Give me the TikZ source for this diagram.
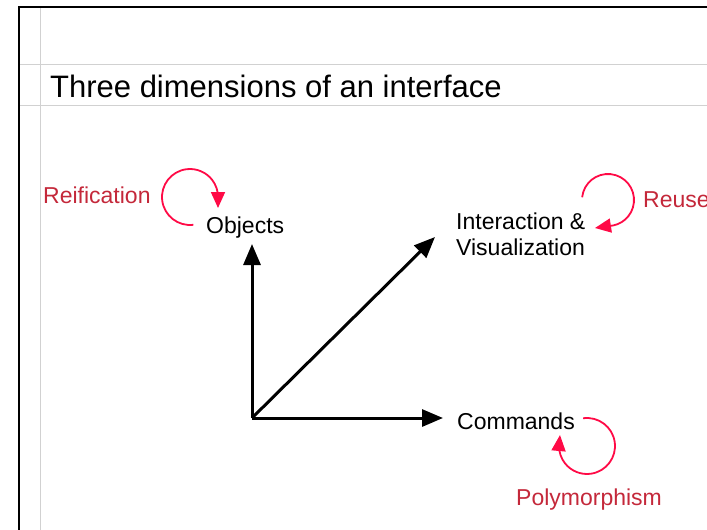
\documentclass[tikz,border=0pt]{standalone}
\usepackage{fontspec}
\setmainfont{Liberation Sans}
\usetikzlibrary{arrows.meta,calc}
\definecolor{loopred}{HTML}{FF0A46}
\definecolor{labelred}{HTML}{C4283A}

\begin{document}
\begin{tikzpicture}[
  x=1pt, y=1pt,
  axis/.style={line width=3pt,-{Triangle[length=21pt,width=17pt]}},
  loopline/.style={loopred,line width=1.8pt,-{Triangle[length=16pt,width=14pt]}},
  dim/.style={inner sep=0pt,anchor=base west,font=\fontsize{23}{26}\selectfont,align=left},
  feature/.style={dim,text=labelred},
  rule/.style={black!18,line width=1pt}
]
  \useasboundingbox (0,0) rectangle (707,-530);
  % page frame
  \draw[rule] (40,-7) -- (40,-530);
  \draw[rule] (19,-64) -- (707,-64);
  \draw[rule] (19,-105) -- (707,-105);
  \draw[line width=2pt] (19,-530) -- (19,-7) -- (707,-7);
  \node[inner sep=0pt,anchor=base west,font=\fontsize{31}{36}\selectfont] (title) at (50,-97) {Three dimensions of an interface};

  % dimensions
  \coordinate (o) at (252,-418);
  \coordinate (objTip) at (252,-244);
  \coordinate (ivTip) at (435,-237);
  \coordinate (cmdTip) at (443,-418);
  \node[dim] (objects) at (206,-233) {Objects};
  \node[dim] (interaction) at (456,-229) {Interaction \&};
  \node[dim] (visualization) at (456,-255) {Visualization};
  \node[dim] (commands) at (457,-429) {Commands};
  \draw[axis] (o) -- (objTip);
  \draw[axis] (o) -- (ivTip);
  \draw[axis] (o) -- (cmdTip);

  % features
  \node[feature] (reification) at (43,-203) {Reification};
  \node[feature] (reuse) at (643,-207) {Reuse};
  \node[feature] (polymorphism) at (516,-505) {Polymorphism};
  \coordinate (reifC) at (190,-197);
  \coordinate (reuseC) at (608,-200);
  \coordinate (polyC) at (587,-446);
  \draw[loopline] ($(reifC)+(-83:28)$) arc[start angle=-83,end angle=-360,radius=28] -- ++(0,-11);
  \draw[loopline] ($(reuseC)+(174:26)$) arc[start angle=174,end angle=-90,radius=26] -- ++(-13,-2);
  \draw[loopline] ($(polyC)+(98:28)$) arc[start angle=98,end angle=-180,radius=28] -- ++(1,11);
\end{tikzpicture}
\end{document}
